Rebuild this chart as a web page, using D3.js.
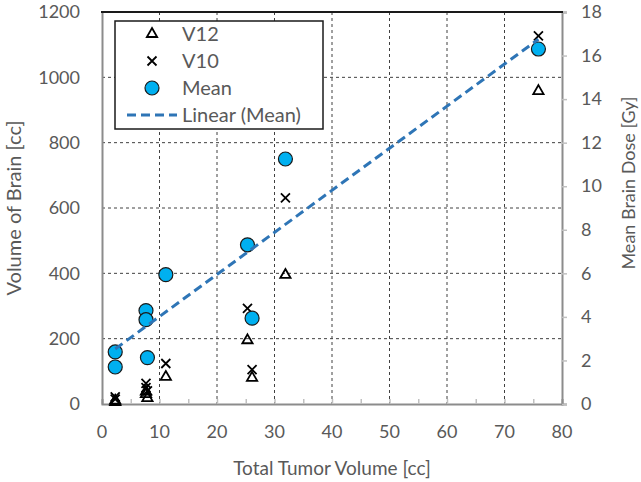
<!DOCTYPE html>
<html>
<head>
<meta charset="utf-8">
<script src="https://cdn.jsdelivr.net/npm/d3@7.9.0/dist/d3.min.js"></script>
<style>
  body { margin: 0; background: #fff; }
  svg { font-family: Lato, "Open Sans", sans-serif; }
</style>
</head>
<body>
<svg id="chart" width="641" height="482"></svg>
<script>
// values
const tumorVolume = [2.3, 2.3, 7.65, 7.65, 7.9, 11.1, 25.3, 26.1, 31.9, 75.9];
const meanDose = [2.39, 1.70, 4.29, 3.87, 2.13, 5.94, 7.31, 3.94, 11.25, 16.30];
const v10 = [22, 15, 63, 50, 40, 124, 293, 105, 631, 1127];
const v12 = [10, 6, 38, 30, 18, 83, 195, 80, 395, 958];

const xTicks = [0, 10, 20, 30, 40, 50, 60, 70, 80];
const yLeftTicks = [0, 200, 400, 600, 800, 1000, 1200];
const yRightTicks = [0, 2, 4, 6, 8, 10, 12, 14, 16, 18];
const legendLabels = ['V12', 'V10', 'Mean', 'Linear (Mean)'];

const textColor = '#595959';
const axisColor = '#8c8c8c';
const meanFill = '#00b0f0';
const trendColor = '#2e75b6';

const margin = { top: 12, right: 79, bottom: 78, left: 102 };
const width = 641 - margin.left - margin.right;
const height = 482 - margin.top - margin.bottom;

const svg = d3.select('#chart');
const g = svg.append('g').attr('transform', `translate(${margin.left},${margin.top})`);

const x = d3.scaleLinear().domain([0, 80]).range([0, width]);
const yL = d3.scaleLinear().domain([0, 1200]).range([height, 0]);
const yR = d3.scaleLinear().domain([0, 18]).range([height, 0]);

// gridlines
g.append('g')
    .selectAll('line')
    .data(xTicks.slice(1, -1))
    .enter().append('line')
    .attr('x1', d => x(d)).attr('x2', d => x(d))
    .attr('y1', 0).attr('y2', height)
    .attr('stroke', '#404040').attr('stroke-width', 1).attr('stroke-dasharray', '3,3');

g.append('g')
    .selectAll('line')
    .data(yLeftTicks.slice(1, -1))
    .enter().append('line')
    .attr('x1', 0).attr('x2', width)
    .attr('y1', d => yL(d)).attr('y2', d => yL(d))
    .attr('stroke', '#404040').attr('stroke-width', 1).attr('stroke-dasharray', '3,3');

// axes
const xAxis = g.append('g')
    .attr('transform', `translate(0,${height})`)
    .call(d3.axisBottom(x).tickValues(d3.range(0, 81, 5)).tickSize(-5).tickFormat(''));
xAxis.select('.domain').attr('stroke', axisColor).attr('stroke-width', 2);
xAxis.selectAll('.tick line').attr('stroke', '#c0c0c0').attr('stroke-width', 1.5);

g.append('g')
    .selectAll('text')
    .data(xTicks)
    .enter().append('text')
    .attr('x', d => x(d))
    .attr('y', height + 34)
    .attr('text-anchor', 'middle')
    .attr('fill', textColor)
    .attr('font-size', 18)
    .text(d => d);

const yAxisL = g.append('g')
    .call(d3.axisLeft(yL).tickValues(yLeftTicks).tickFormat(d3.format('d')).tickSize(0).tickPadding(22));
yAxisL.select('.domain').attr('stroke', axisColor).attr('stroke-width', 2);
yAxisL.selectAll('text').attr('fill', textColor).attr('font-size', 18).attr('font-family', 'Lato, sans-serif');

const yAxisR = g.append('g')
    .attr('transform', `translate(${width},0)`)
    .call(d3.axisRight(yR).tickValues(yRightTicks).tickSize(5).tickPadding(14));
yAxisR.select('.domain').attr('stroke', axisColor).attr('stroke-width', 2);
yAxisR.selectAll('.tick line').attr('stroke', '#c0c0c0').attr('stroke-width', 1.5);
yAxisR.selectAll('text').attr('fill', textColor).attr('font-size', 18).attr('font-family', 'Lato, sans-serif');

// top border
g.append('line')
    .attr('x1', -1).attr('x2', width + 1)
    .attr('y1', 0).attr('y2', 0)
    .attr('stroke', '#1a1a1a').attr('stroke-width', 2);

// axis titles
svg.append('text')
    .attr('x', margin.left + width / 2)
    .attr('y', 475)
    .attr('text-anchor', 'middle')
    .attr('fill', textColor)
    .attr('font-size', 19)
    .text('Total Tumor Volume [cc]');

svg.append('text')
    .attr('transform', `translate(21,${margin.top + height / 2}) rotate(-90)`)
    .attr('text-anchor', 'middle')
    .attr('fill', textColor)
    .attr('font-size', 20)
    .text('Volume of Brain [cc]');

svg.append('text')
    .attr('transform', `translate(635,${margin.top + height / 2 - 25}) rotate(-90)`)
    .attr('text-anchor', 'middle')
    .attr('fill', textColor)
    .attr('font-size', 18)
    .text('Mean Brain Dose [Gy]');

const triangle = d3.symbol().type(d3.symbolTriangle).size(46);
const cross = 'M-4.5,-4.5L4.5,4.5M-4.5,4.5L4.5,-4.5';

// V12 triangles
g.append('g')
    .selectAll('path')
    .data(tumorVolume.map((t, i) => [t, v12[i]]))
    .enter().append('path')
    .attr('d', triangle)
    .attr('transform', d => `translate(${x(d[0])},${yL(d[1])})`)
    .attr('fill', 'none').attr('stroke', '#000').attr('stroke-width', 1.8);

// V10 crosses
g.append('g')
    .selectAll('path')
    .data(tumorVolume.map((t, i) => [t, v10[i]]))
    .enter().append('path')
    .attr('d', cross)
    .attr('transform', d => `translate(${x(d[0])},${yL(d[1])})`)
    .attr('fill', 'none').attr('stroke', '#000').attr('stroke-width', 1.8);

// Mean circles (right axis)
g.append('g')
    .selectAll('circle')
    .data(tumorVolume.map((t, i) => [t, meanDose[i]]))
    .enter().append('circle')
    .attr('cx', d => x(d[0]))
    .attr('cy', d => yR(d[1]))
    .attr('r', 7)
    .attr('fill', meanFill).attr('stroke', '#1a1a1a').attr('stroke-width', 1.2);

// linear trendline of mean
const mx = d3.mean(tumorVolume), my = d3.mean(meanDose);
const slope = d3.sum(tumorVolume, (t, i) => (t - mx) * (meanDose[i] - my)) /
    d3.sum(tumorVolume, t => (t - mx) * (t - mx));
const intercept = my - slope * mx;
const [xMin, xMax] = d3.extent(tumorVolume);
g.append('path')
    .datum([xMin, xMax])
    .attr('d', d3.line().x(d => x(d)).y(d => yR(intercept + slope * d)))
    .attr('fill', 'none')
    .attr('stroke', trendColor).attr('stroke-width', 3).attr('stroke-dasharray', '9,5');

// legend
const legend = svg.append('g').attr('transform', 'translate(115,21)');
legend.append('rect')
    .attr('width', 208).attr('height', 108)
    .attr('fill', '#fff').attr('stroke', '#1a1a1a').attr('stroke-width', 1.5);

const rows = legend.selectAll('g.row')
    .data(legendLabels)
    .enter().append('g')
    .attr('class', 'row')
    .attr('transform', (d, i) => `translate(0,${13 + i * 27})`);

rows.append('text')
    .attr('x', 67).attr('y', 0).attr('dy', '0.35em')
    .attr('fill', textColor).attr('font-size', 20)
    .text(d => d);

rows.filter((d, i) => i === 0).append('path')
    .attr('d', triangle).attr('transform', 'translate(37,0)')
    .attr('fill', 'none').attr('stroke', '#000').attr('stroke-width', 1.8);
rows.filter((d, i) => i === 1).append('path')
    .attr('d', cross).attr('transform', 'translate(37,0)')
    .attr('fill', 'none').attr('stroke', '#000').attr('stroke-width', 1.8);
rows.filter((d, i) => i === 2).append('circle')
    .attr('cx', 37).attr('r', 7)
    .attr('fill', meanFill).attr('stroke', '#1a1a1a').attr('stroke-width', 1.2);
rows.filter((d, i) => i === 3).append('line')
    .attr('x1', 12).attr('x2', 62)
    .attr('stroke', trendColor).attr('stroke-width', 3).attr('stroke-dasharray', '9,5');
</script>
</body>
</html>
